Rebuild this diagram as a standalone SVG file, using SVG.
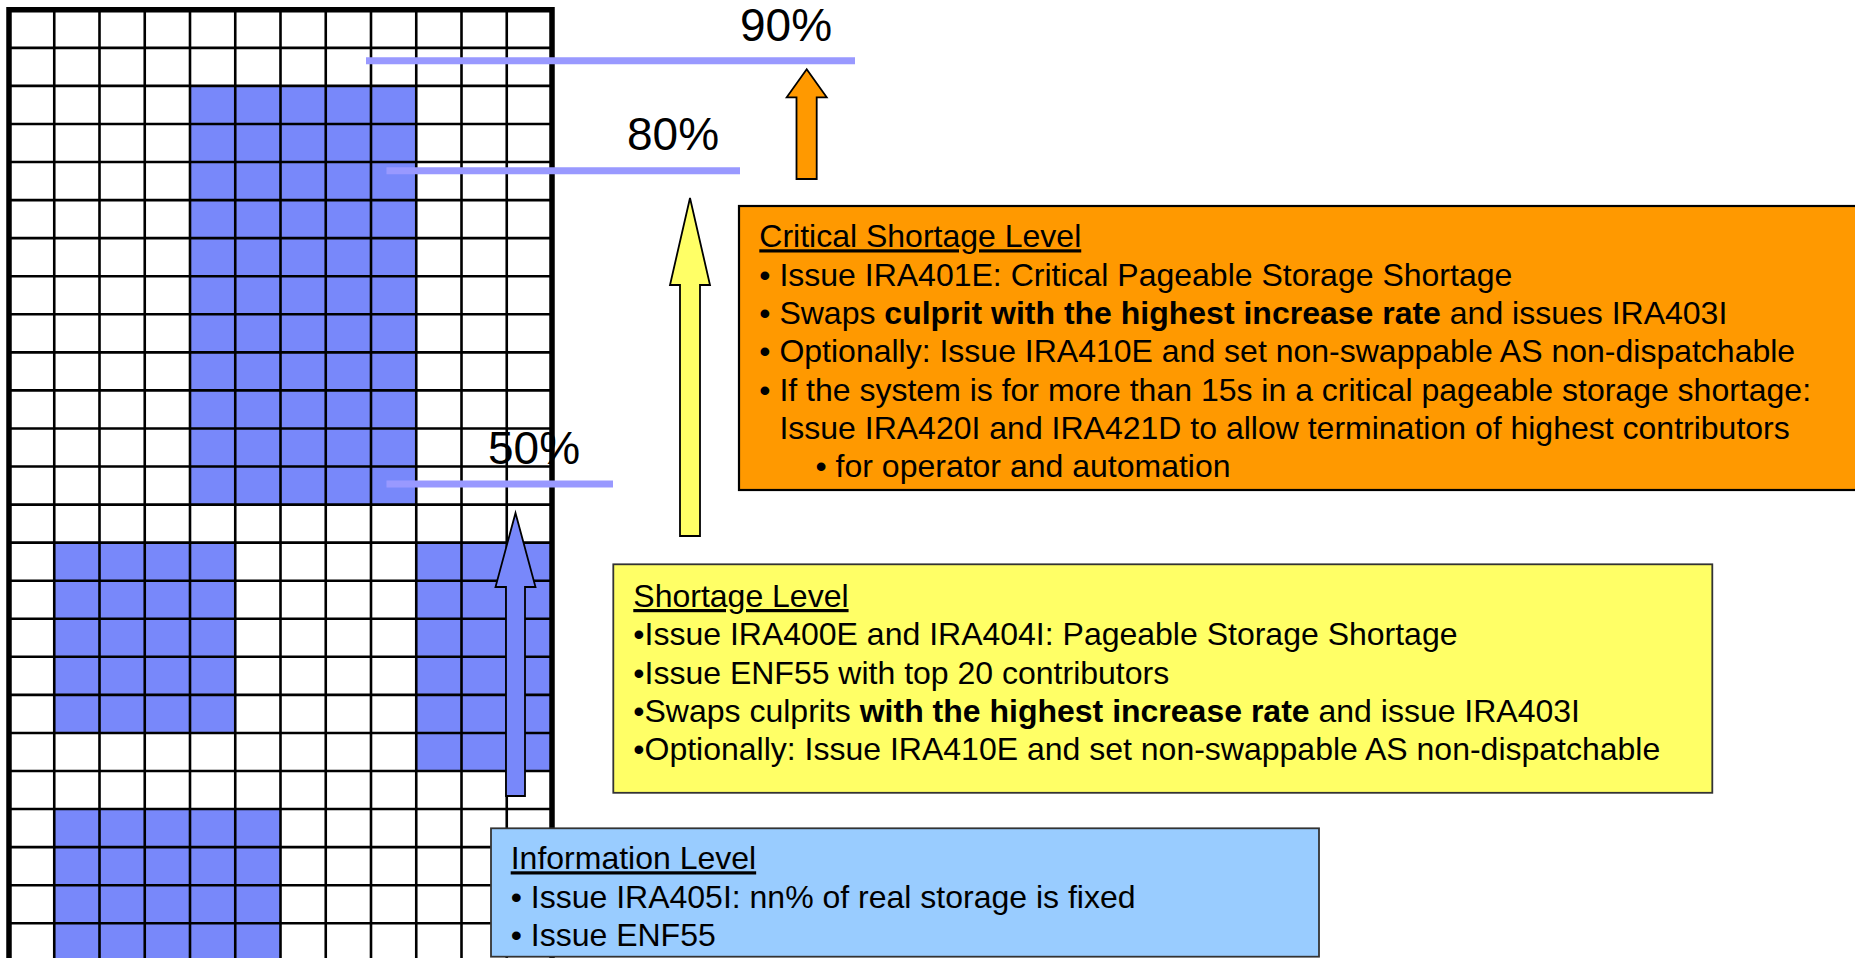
<svg xmlns="http://www.w3.org/2000/svg" width="1855" height="958" viewBox="0 0 1855 958">
  <style>
    .txt { font-family: "Liberation Sans", Arial, sans-serif; font-size: 32px; fill: #000; }
    .pct { font-family: "Liberation Sans", Arial, sans-serif; font-size: 46px; fill: #000; }
    .head { text-decoration: underline; }
    .b { font-weight: bold; }
    .cell { fill: #7888FA; }
    .grid { fill: none; stroke: #000; stroke-width: 2.6; }
    .frame { fill: none; stroke: #000; stroke-width: 5.5; }
    .level { fill: none; stroke: #9999FF; stroke-width: 7; }
    .arrow { stroke: #000; stroke-width: 1.8; stroke-linejoin: miter; }
  </style>

  <rect width="1855" height="958" fill="#fff"/>

  <!-- storage grid -->
  <g id="grid">
    <g id="used-frames">
      <rect class="cell" x="190" y="85.92" width="226.25" height="418.66"/>
      <rect class="cell" x="54.25" y="542.64" width="181" height="190.3"/>
      <rect class="cell" x="416.25" y="542.64" width="135.75" height="228.36"/>
      <rect class="cell" x="54.25" y="809.06" width="226.25" height="149"/>
    </g>
    <path class="grid" d="M54.25 9.8V958M99.5 9.8V958M144.75 9.8V958M190 9.8V958M235.25 9.8V958M280.5 9.8V958M325.75 9.8V958M371 9.8V958M416.25 9.8V958M461.5 9.8V958M506.75 9.8V958"/>
    <path class="grid" d="M9 47.86H552M9 85.92H552M9 123.98H552M9 162.04H552M9 200.1H552M9 238.16H552M9 276.22H552M9 314.28H552M9 352.34H552M9 390.4H552M9 428.46H552M9 466.52H552M9 504.58H552M9 542.64H552M9 580.7H552M9 618.76H552M9 656.82H552M9 694.88H552M9 732.94H552M9 771H552M9 809.06H552M9 847.12H552M9 885.18H552M9 923.24H552"/>
    <path class="frame" d="M9 960V9.8H552V960"/>
  </g>

  <!-- threshold markers -->
  <g id="threshold-90">
    <line class="level" x1="366" y1="60.7" x2="855" y2="60.7"/>
    <text class="pct" x="740" y="41">90%</text>
  </g>
  <g id="threshold-80">
    <line class="level" x1="386.5" y1="170.8" x2="740" y2="170.8"/>
    <text class="pct" x="627" y="150">80%</text>
  </g>
  <g id="threshold-50">
    <line class="level" x1="386.5" y1="484" x2="613" y2="484"/>
    <text class="pct" x="488" y="464">50%</text>
  </g>

  <!-- escalation arrows -->
  <g id="connectors">
    <polygon class="arrow" fill="#7888FA" points="515.5,513 535.5,587 525,587 525,796 506,796 506,587 495.5,587"/>
    <polygon class="arrow" fill="#FFFF66" points="690,198 710,285 700,285 700,536 680,536 680,285 670,285"/>
    <polygon class="arrow" fill="#FF9900" points="806.7,69.3 826.7,97.3 816.7,97.3 816.7,179 796.5,179 796.5,97.3 786.7,97.3"/>
  </g>

  <!-- critical shortage level -->
  <g id="critical-level">
    <rect x="739" y="206" width="1130" height="284" fill="#FF9900" stroke="#000" stroke-width="2.2"/>
    <text class="txt head" x="759.3" y="247.3">Critical Shortage Level</text>
    <text class="txt" x="759.3" y="285.6">• Issue IRA401E: Critical Pageable Storage Shortage</text>
    <text class="txt" x="759.3" y="323.9">• Swaps <tspan class="b">culprit with the highest increase rate</tspan> and issues IRA403I</text>
    <text class="txt" x="759.3" y="362.2">• Optionally: Issue IRA410E and set non-swappable AS non-dispatchable</text>
    <text class="txt" x="759.3" y="400.5">• If the system is for more than 15s in a critical pageable storage shortage:</text>
    <text class="txt" x="779.4" y="438.8">Issue IRA420I and IRA421D to allow termination of highest contributors</text>
    <text class="txt" x="815.5" y="477">• for operator and automation</text>
  </g>

  <!-- shortage level -->
  <g id="shortage-level">
    <rect x="613.3" y="564.3" width="1099" height="228.5" fill="#FFFF66" stroke="#333" stroke-width="1.8"/>
    <text class="txt head" x="633.3" y="607">Shortage Level</text>
    <text class="txt" x="633.3" y="645.3">•Issue IRA400E and IRA404I: Pageable Storage Shortage</text>
    <text class="txt" x="633.3" y="683.5">•Issue ENF55 with top 20 contributors</text>
    <text class="txt" x="633.3" y="721.7">•Swaps culprits <tspan class="b">with the highest increase rate</tspan> and issue IRA403I</text>
    <text class="txt" x="633.3" y="759.9">•Optionally: Issue IRA410E and set non-swappable AS non-dispatchable</text>
  </g>

  <!-- information level -->
  <g id="information-level">
    <rect x="491" y="828.3" width="828" height="128.4" fill="#99CCFF" stroke="#333" stroke-width="1.8"/>
    <text class="txt head" x="510.7" y="869.3">Information Level</text>
    <text class="txt" x="510.7" y="907.7">• Issue IRA405I: nn% of real storage is fixed</text>
    <text class="txt" x="510.7" y="946">• Issue ENF55</text>
  </g>
</svg>
